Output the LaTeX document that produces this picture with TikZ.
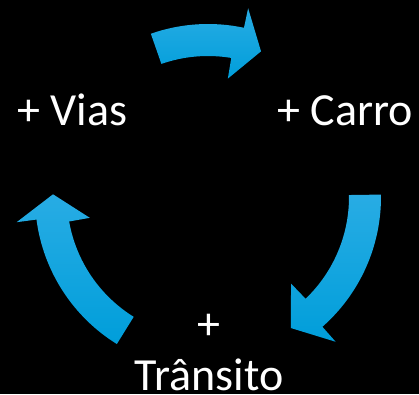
\documentclass[tikz,border=0pt]{standalone}
\usepackage{fontspec}
\setmainfont{Carlito}
\usepackage{xcolor}
\usetikzlibrary{calc}

\definecolor{cyclelight}{RGB}{40,172,228}
\definecolor{cycledark}{RGB}{0,158,218}

% one curved arrow of the cycle: start, outer base, inner base, tip (angles)
\newcommand{\cyclearrow}[4]{%
  \fill[arrowfill] (#1:173) arc[start angle=#1, end angle=#2, radius=173]
    -- (#2:193) -- (#4:155) -- (#3:120) -- (#3:141)
    arc[start angle=#3, end angle=#1, radius=141] -- cycle;}

\begin{document}
\begin{tikzpicture}[x=1pt,y=1pt,
  arrowfill/.style={top color=cyclelight,bottom color=cycledark},
  label/.style={text=white,font=\fontsize{46}{51}\selectfont,inner sep=0pt}]

% Background
\fill[black] (0,0) rectangle (419,394);
\useasboundingbox (0,0) rectangle (419,394);

% Labels
\node[label,anchor=base] (vias) at (72.5,269) {+ Vias};
\node[label,anchor=base] (carro) at (345,269) {+ Carro};
\node[label,anchor=base,align=center] (transito) at (209,4) {+\\Trânsito};

% Cycle arrows
\begin{scope}[shift={(208,197)}]
  \cyclearrow{109.3}{78}{80.5}{70}
  \cyclearrow{0.8}{-48.6}{-46.2}{-57.7}
  \cyclearrow{238.2}{187.5}{190}{179}
\end{scope}

\end{tikzpicture}
\end{document}
